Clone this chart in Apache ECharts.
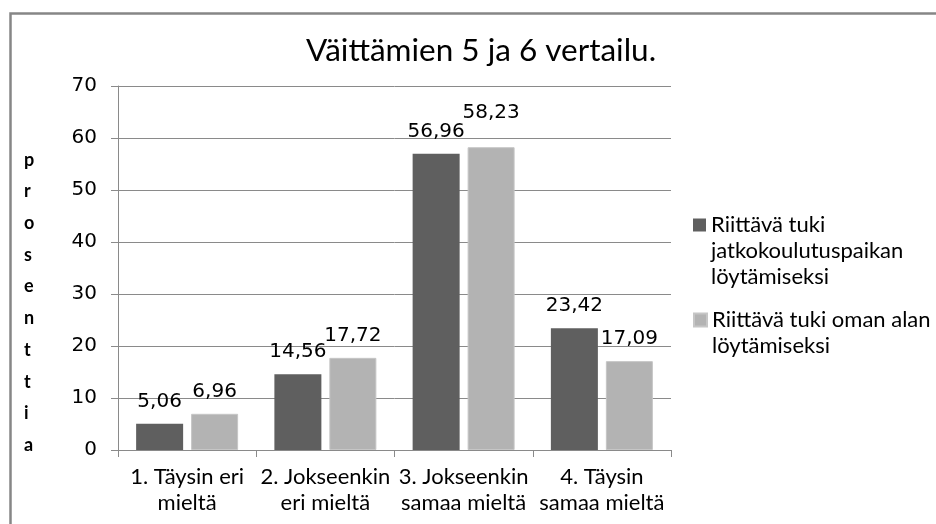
<!DOCTYPE html>
<html>
<head>
<meta charset="utf-8">
<script src="https://cdn.jsdelivr.net/npm/echarts@6/dist/echarts.min.js"></script>
<style>
  html, body { margin: 0; padding: 0; background: #fff; }
  #chart { width: 936px; height: 524px; }
</style>
</head>
<body>
<div id="chart"></div>
<script>
// Väittämien 5 ja 6 vertailu — grouped bars, percentages
const categories = ['1. Täysin eri\nmieltä', '2. Jokseenkin\neri mieltä', '3. Jokseenkin\nsamaa mieltä', '4. Täysin\nsamaa mieltä'];
const seriesNames = ['Riittävä tuki\njatkokoulutuspaikan\nlöytämiseksi', 'Riittävä tuki oman alan\nlöytämiseksi'];
const jatkoValues = [5.06, 14.56, 56.96, 23.42];
const omaValues = [6.96, 17.72, 58.23, 17.09];
const yTicks = [0, 10, 20, 30, 40, 50, 60, 70];

const DARK = '#5f5f5f';
const LIGHT = '#b3b3b3';
const GRID_LINE = '#8a8a8a';
const TEXT_FONT = 'Lato';
const NUM_FONT = 'DejaVu Sans';

const fmtNum = v => v.toFixed(2).replace('.', ',');

const dataLabel = {
  show: true,
  position: 'top',
  distance: 12,
  color: '#000',
  fontFamily: NUM_FONT,
  fontSize: 20,
  lineHeight: 20,
  formatter: p => fmtNum(p.value),
};

// Excel nudged the 58,23 label upward to clear its neighbour
const omaData = omaValues.map((v, i) => i === 2 ? { value: v, label: { distance: 24 } } : v);

// legend icon sits on the first text line: pad the block with leading blank lines
const topAligned = name => '\n'.repeat(name.split('\n').length - 1) + name;

const legendBase = {
  orient: 'vertical',
  left: 693,
  padding: 0,
  icon: 'rect',
  itemWidth: 13,
  itemHeight: 13,
  itemGap: 0,
  selectedMode: false,
  formatter: topAligned,
  textStyle: { fontFamily: TEXT_FONT, fontSize: 22, color: '#000', lineHeight: 26 },
};

const c = echarts.init(document.getElementById('chart'), null, { renderer: 'canvas' });
c.setOption({
  animation: false,
  title: {
    text: 'Väittämien 5 ja 6 vertailu.',
    left: 476, top: 30, textAlign: 'center',
    textStyle: { fontFamily: TEXT_FONT, fontSize: 31.5, fontWeight: 'normal', color: '#000' },
  },
  legend: [
    { ...legendBase, top: 160, data: [seriesNames[0]] },
    { ...legendBase, top: 281, data: [seriesNames[1]] },
  ],
  grid: { left: 118, right: 265, top: 86, bottom: 74 },
  xAxis: {
    type: 'category',
    data: categories,
    axisLine: { lineStyle: { color: GRID_LINE, width: 1 } },
    axisTick: { show: true, length: 7, lineStyle: { color: GRID_LINE } },
    axisLabel: {
      interval: 0, margin: 14, color: '#000',
      fontFamily: TEXT_FONT, fontSize: 22, lineHeight: 26,
    },
    splitLine: { show: false },
  },
  yAxis: {
    type: 'value',
    min: yTicks[0], max: yTicks[yTicks.length - 1], interval: 10,
    axisLine: { show: true, lineStyle: { color: GRID_LINE } },
    axisTick: { show: true, length: 7, lineStyle: { color: GRID_LINE } },
    axisLabel: { margin: 21, color: '#000', fontFamily: NUM_FONT, fontSize: 20 },
    splitLine: { lineStyle: { color: GRID_LINE, width: 1 } },
  },
  graphic: [
    {
      type: 'rect', left: 8, top: 11, silent: true,
      shape: { width: 1000, height: 1000 },
      style: { fill: 'none', stroke: '#868686', lineWidth: 2.5 },
    },
    {
      type: 'text', left: 24, top: 144, silent: true,
      style: {
        text: 'p\nr\no\ns\ne\nn\nt\nt\ni\na',
        font: 'bold 18px Lato', lineHeight: 31.7, fill: '#000',
      },
    },
  ],
  series: [
    {
      name: seriesNames[0], type: 'bar', data: jatkoValues,
      barWidth: 47, barGap: '17%',
      itemStyle: { color: DARK },
      label: dataLabel,
    },
    {
      name: seriesNames[1], type: 'bar', data: omaData,
      barWidth: 47, barGap: '17%',
      itemStyle: { color: LIGHT, borderColor: '#c6c6c6', borderWidth: 1 },
      label: dataLabel,
    },
  ],
});
</script>
</body>
</html>
